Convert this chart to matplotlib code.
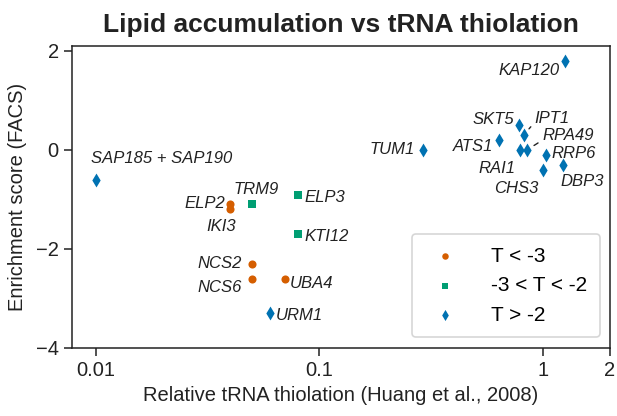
import matplotlib.pyplot as plt
import numpy as np

plt.rcParams['font.family'] = ['Liberation Sans', 'DejaVu Sans']

# data
genes_low = ['ELP2', 'IKI3', 'NCS2', 'NCS6', 'UBA4']
thio_low = [0.04, 0.04, 0.05, 0.05, 0.07]
score_low = [-1.1, -1.2, -2.3, -2.6, -2.6]

genes_mid = ['TRM9', 'ELP3', 'KTI12']
thio_mid = [0.05, 0.08, 0.08]
score_mid = [-1.1, -0.9, -1.7]

genes_high = ['SAP185 + SAP190', 'URM1', 'TUM1', 'KAP120', 'SKT5', 'IPT1',
              'ATS1', 'RAI1', 'RPA49', 'RRP6', 'CHS3', 'DBP3']
thio_high = [0.01, 0.06, 0.29, 1.26, 0.78, 0.82, 0.64, 0.79, 0.85, 1.03, 1.0, 1.23]
score_high = [-0.6, -3.3, 0.0, 1.8, 0.5, 0.3, 0.2, 0.0, 0.0, -0.1, -0.4, -0.3]

legend_labels = ['T < -3', '-3 < T < -2', 'T > -2']

# label placement (offset in pixels, horizontal alignment)
label_pos = {
    'ELP2': (-5, 1, 'right'), 'IKI3': (6, -17, 'right'),
    'NCS2': (-10, 0, 'right'), 'NCS6': (-10, -9, 'right'),
    'UBA4': (5, -5, 'left'), 'TRM9': (4, 15, 'center'),
    'ELP3': (7, -3, 'left'), 'KTI12': (7, -2, 'left'),
    'SAP185 + SAP190': (-5, 21, 'left'), 'URM1': (6, -2, 'left'),
    'TUM1': (-8, 0, 'right'), 'KAP120': (-6, -10, 'right'),
    'SKT5': (-4, 6, 'right'), 'IPT1': (11, 17, 'left'),
    'ATS1': (-6, -6, 'right'), 'RAI1': (-4, -19, 'right'),
    'RPA49': (15, 14, 'left'), 'RRP6': (6, 1, 'left'),
    'CHS3': (-4, -19, 'right'), 'DBP3': (-2, -17, 'left'),
}
with_line = ['IPT1', 'RPA49']

c_low, c_mid, c_high = '#D55E00', '#009E73', '#0072B2'

fig = plt.figure(figsize=(6.17, 4.16), dpi=100)
ax = fig.add_axes([0.1167, 0.1635, 0.872, 0.726])

ax.scatter(thio_low, score_low, marker='o', s=34, color=c_low, label=legend_labels[0], zorder=3, linewidths=0)
ax.scatter(thio_mid, score_mid, marker='s', s=34, color=c_mid, label=legend_labels[1], zorder=3, linewidths=0)
ax.scatter(thio_high, score_high, marker='d', s=50, color=c_high, label=legend_labels[2], zorder=3, linewidths=0)

for names, xs, ys in [(genes_low, thio_low, score_low),
                      (genes_mid, thio_mid, score_mid),
                      (genes_high, thio_high, score_high)]:
    for g, xv, yv in zip(names, xs, ys):
        dx, dy, ha = label_pos[g]
        kw = {}
        if g in with_line:
            kw['arrowprops'] = dict(arrowstyle='-', color='#222222', lw=1.0,
                                    shrinkA=1, shrinkB=6, relpos=(0, 0.2))
        ax.annotate(g, (xv, yv), xytext=(dx, dy), textcoords='offset pixels',
                    ha=ha, va='center', fontsize=12, style='italic',
                    color='#222222', **kw)

ax.set_xscale('log')
ax.set_xlim(0.00782, 2)
ax.set_ylim(-4, 2.1)
ax.set_xticks([0.01, 0.1, 1, 2])
ax.set_xticklabels(['0.01', '0.1', '1', '2'])
ax.xaxis.set_minor_locator(plt.NullLocator())
ax.set_yticks([-4, -2, 0, 2])
ax.set_yticklabels(['\u22124', '\u22122', '0', '2'])

for sp in ax.spines.values():
    sp.set_linewidth(1.1)
    sp.set_color('#222222')
ax.tick_params(direction='out', length=6, width=1.1, labelsize=14.5, color='#222222', labelcolor='#222222')

ax.set_xlabel('Relative tRNA thiolation (Huang et al., 2008)', fontsize=14.5, color='#222222', labelpad=4)
ax.set_ylabel('Enrichment score (FACS)', fontsize=14.5, color='#222222', labelpad=6)
ax.set_title('Lipid accumulation vs tRNA thiolation', fontsize=19, fontweight='bold', color='#222222', pad=10)

leg = ax.legend(loc='lower right', bbox_to_anchor=(0.981, 0.036), borderaxespad=0,
                fontsize=15, frameon=True, fancybox=True, edgecolor='#cccccc',
                labelspacing=0.5, handletextpad=1.2, borderpad=0.6, markerscale=0.8)
leg.get_frame().set_linewidth(1.2)

fig.savefig('out.png', dpi=100)
